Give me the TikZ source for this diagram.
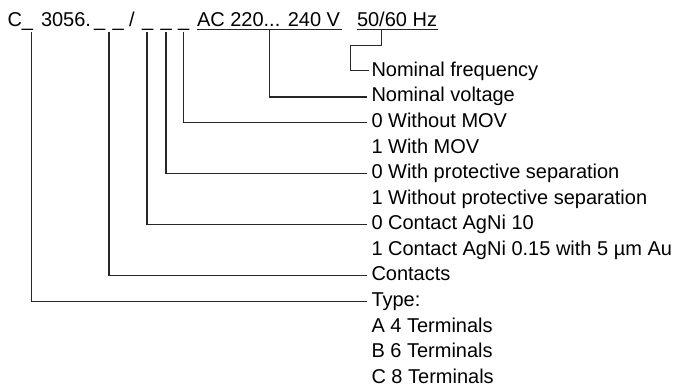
\documentclass[tikz,border=0pt]{standalone}
\usepackage{fontspec}
\setmainfont{Liberation Sans}
\usetikzlibrary{calc}
\begin{document}
\begin{tikzpicture}[x=1pt,y=-1pt,
  txt/.style={anchor=base west,inner sep=0pt,outer sep=0pt,text=black,font=\fontsize{20}{24}\selectfont},
  conn/.style={draw=black!85,line width=1.1pt},
  uline/.style={draw=black!85,line width=1.1pt}]
\useasboundingbox (0,0) rectangle (692,387);
% header code
\node[txt] (hC) at (7.5,27) {C\_};
\node[txt] (hN) at (41,27) {3056.};
\node[txt] (hU1) at (94,27) {\_};
\node[txt] (hU2) at (112.5,27) {\_};
\node[txt] (hS) at (129,27) {/};
\node[txt] (hU3) at (142,27) {\_};
\node[txt] (hU4) at (160.5,27) {\_};
\node[txt] (hU5) at (178,27) {\_};
\node[txt] (hV) at (197,27) {AC 220... 240 V};
\node[txt] (hF) at (357,27) {50/60 Hz};
\draw[uline] ($(hV.base west)+(0,2.5)$) -- ($(hV.base east)+(2,2.5)$);
\draw[uline] ($(hF.base west)+(0,2.5)$) -- ($(hF.base east)+(1,2.5)$);
% field tops
\coordinate (fType) at (31.5,32);
\coordinate (fCont) at (109,32);
\coordinate (fAg) at (147,32);
\coordinate (fProt) at (166,32);
\coordinate (fMov) at (183.5,32);
\coordinate (fVolt) at (269.5,30);
\coordinate (fFreq) at (381.5,30);
\coordinate (bendF) at (350.5,45.5);
% legend rows
\node[txt] (tFreq) at (371.5,76.5) {Nominal frequency};
\node[txt] (tVolt) at (371.5,102) {Nominal voltage};
\node[txt] (tMov0) at (371.5,127.6) {0 Without MOV};
\node[txt] (tMov1) at (371.5,153.2) {1 With MOV};
\node[txt] (tProt0) at (371.5,178.7) {0 With protective separation};
\node[txt] (tProt1) at (371.5,204.3) {1 Without protective separation};
\node[txt] (tAg0) at (371.5,229.8) {0 Contact AgNi 10};
\node[txt] (tAg1) at (371.5,255.4) {1 Contact AgNi 0.15 with 5 µm Au};
\node[txt] (tCont) at (371.5,280.9) {Contacts};
\node[txt] (tType) at (371.5,306.5) {Type:};
\node[txt] (tA) at (371.5,332) {A 4 Terminals};
\node[txt] (tB) at (371.5,357.6) {B 6 Terminals};
\node[txt] (tC) at (371.5,383.1) {C 8 Terminals};
% connectors
\draw[conn] (fFreq) |- (bendF) |- ($(tFreq.base west)+(-3,-6)$);
\draw[conn] (fVolt) |- ($(tVolt.base west)+(-5,-5)$);
\draw[conn] (fMov) |- ($(tMov0.base west)+(-5,-5)$);
\draw[conn] (fProt) |- ($(tProt0.base west)+(-5,-5)$);
\draw[conn] (fAg) |- ($(tAg0.base west)+(-5,-5)$);
\draw[conn] (fCont) |- ($(tCont.base west)+(-5,-5)$);
\draw[conn] (fType) |- ($(tType.base west)+(-5,-5)$);
\end{tikzpicture}
\end{document}
